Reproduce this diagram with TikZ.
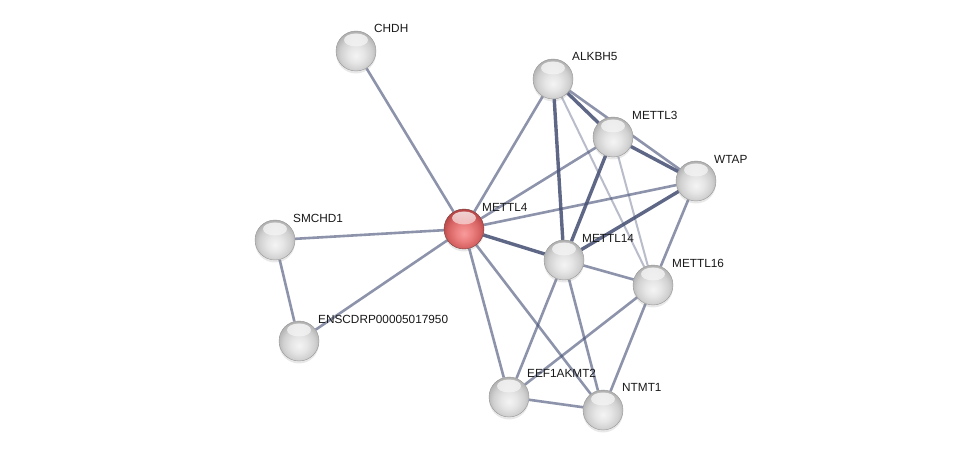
\documentclass[tikz,border=0pt]{standalone}
\usepackage{fontspec}
\setmainfont{Liberation Sans}
\usetikzlibrary{backgrounds,fadings,shadows}
\definecolor{edgec}{RGB}{72,82,118}
\definecolor{labc}{RGB}{25,25,25}
\definecolor{ga}{RGB}{244,244,244}
\definecolor{gb}{RGB}{230,230,230}
\definecolor{gc}{RGB}{208,208,208}
\definecolor{gd}{RGB}{178,178,178}
\definecolor{ge}{RGB}{145,145,145}
\definecolor{ra}{RGB}{248,155,155}
\definecolor{rb}{RGB}{236,128,128}
\definecolor{rc}{RGB}{214,98,98}
\definecolor{rd}{RGB}{184,70,70}
\definecolor{re}{RGB}{150,50,50}
\pgfdeclareradialshading{graysph}{\pgfpoint{0bp}{-6bp}}{color(0bp)=(ga); color(10bp)=(gb); color(20bp)=(gc); color(27bp)=(gd); color(31bp)=(ge); color(50bp)=(ge)}
\pgfdeclareradialshading{redsph}{\pgfpoint{0bp}{-6bp}}{color(0bp)=(ra); color(10bp)=(rb); color(20bp)=(rc); color(27bp)=(rd); color(31bp)=(re); color(50bp)=(re)}
\tikzset{
  sphhl/.style={path picture={\fill[white, opacity=0.8, path fading=south] ([yshift=11pt]path picture bounding box.center) ellipse (12pt and 6.5pt);}},
  gnode/.style={circle, minimum size=40pt, inner sep=0pt, shade, shading=graysph, draw=black!40, line width=0.4pt, sphhl, drop shadow={shadow xshift=0pt, shadow yshift=-2.5pt, opacity=0.18}},
  rnode/.style={circle, minimum size=40pt, inner sep=0pt, shade, shading=redsph, draw=red!30!black!75, line width=0.4pt, sphhl, drop shadow={shadow xshift=0pt, shadow yshift=-2.5pt, opacity=0.18}},
  lab/.style={anchor=west, inner sep=0pt, text=labc, font=\fontsize{11.8}{12}\selectfont},
  enorm/.style={draw=edgec, draw opacity=0.62, line width=2.6pt},
  ethick/.style={draw=edgec, draw opacity=0.88, line width=3.4pt},
  ethin/.style={draw=edgec, draw opacity=0.38, line width=2.0pt},
}
\begin{document}
\begin{tikzpicture}[x=1pt,y=-1pt]
\useasboundingbox (0,0) rectangle (975,454);
% nodes
\node[gnode] (chdh) at (356,51) {};
\node[gnode] (alkbh5) at (553,79) {};
\node[gnode] (mettl3) at (613,137) {};
\node[gnode] (wtap) at (696,181) {};
\node[rnode] (mettl4) at (464,229) {};
\node[gnode] (smchd1) at (275,240) {};
\node[gnode] (mettl14) at (564,260) {};
\node[gnode] (mettl16) at (653,285) {};
\node[gnode] (ensc) at (299,341) {};
\node[gnode] (eef) at (509,397) {};
\node[gnode] (ntmt1) at (603,410) {};
% labels
\node[lab] (lchdh) at (374,28) {CHDH};
\node[lab] (lalkbh5) at (572,57) {ALKBH5};
\node[lab] (lmettl3) at (632,115) {METTL3};
\node[lab] (lwtap) at (714,159) {WTAP};
\node[lab] (lmettl4) at (482,207) {METTL4};
\node[lab] (lsmchd1) at (293,218) {SMCHD1};
\node[lab] (lmettl14) at (582,238) {METTL14};
\node[lab] (lmettl16) at (672,263) {METTL16};
\node[lab] (lensc) at (318,319) {ENSCDRP00005017950};
\node[lab] (leef) at (527,373) {EEF1AKMT2};
\node[lab] (lntmt1) at (622,387) {NTMT1};
% edges
\begin{scope}[on background layer]
\fill[white] (0,0) rectangle (975,454);
\draw[enorm] (chdh) -- (mettl4);
\draw[enorm] (smchd1) -- (mettl4);
\draw[enorm] (ensc) -- (mettl4);
\draw[enorm] (smchd1) -- (ensc);
\draw[enorm] (mettl4) -- (alkbh5);
\draw[enorm] (mettl4) -- (mettl3);
\draw[enorm] (mettl4) -- (wtap);
\draw[ethick] (mettl4) -- (mettl14);
\draw[enorm] (mettl4) -- (eef);
\draw[enorm] (mettl4) -- (ntmt1);
\draw[ethick] (alkbh5) -- (mettl3);
\draw[enorm] (alkbh5) -- (wtap);
\draw[ethick] (alkbh5) -- (mettl14);
\draw[ethin] (alkbh5) -- (mettl16);
\draw[ethick] (mettl3) -- (wtap);
\draw[ethick] (mettl3) -- (mettl14);
\draw[ethin] (mettl3) -- (mettl16);
\draw[ethick] (wtap) -- (mettl14);
\draw[enorm] (wtap) -- (mettl16);
\draw[enorm] (mettl14) -- (mettl16);
\draw[enorm] (mettl14) -- (eef);
\draw[enorm] (mettl14) -- (ntmt1);
\draw[enorm] (mettl16) -- (eef);
\draw[enorm] (mettl16) -- (ntmt1);
\draw[enorm] (eef) -- (ntmt1);
\end{scope}
\end{tikzpicture}
\end{document}
